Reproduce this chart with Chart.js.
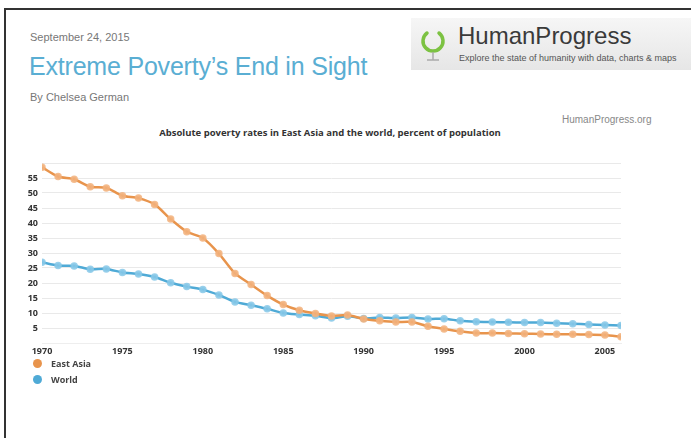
<!DOCTYPE html>
<html>
<head>
<meta charset="utf-8">
<script src="https://cdn.jsdelivr.net/npm/chart.js@4/dist/chart.umd.min.js"></script>
<style>
  body { margin: 0; background: #fff; width: 691px; height: 438px; overflow: hidden; position: relative; font-family: "Liberation Sans", Arial, sans-serif; }
  .frame { position: absolute; left: 4px; top: 8px; right: 0; bottom: 0; border-top: 2px solid #333; border-left: 2px solid #333; }
  .date { position: absolute; left: 30px; top: 31px; font-size: 11px; color: #777; }
  .title { position: absolute; left: 29px; top: 52px; font-size: 25px; color: #5aaed3; letter-spacing: -0.2px; }
  .by { position: absolute; left: 30px; top: 91px; font-size: 11px; color: #777; }
  .site { position: absolute; left: 562px; top: 114px; font-size: 10px; color: #888; }
  .logo { position: absolute; left: 411px; top: 18px; width: 280px; height: 52px; background: linear-gradient(#f6f6f6, #e6e6e6); }
  .logo .name { position: absolute; left: 47px; top: 4px; font-size: 24px; color: #3a3a3a; }
  .logo .tag { position: absolute; left: 48px; top: 35px; font-size: 9px; color: #555; }
  .logo svg { position: absolute; left: 6px; top: 8px; }
  .ctitle { position: absolute; left: 0; width: 660px; top: 126px; text-align: center; font-family: "Open Sans", sans-serif; font-weight: bold; font-size: 9.5px; color: #333; }
  #wrap { position: absolute; left: 0; top: 150px; width: 640px; height: 215px; }
  #legend { position: absolute; left: 33px; top: 357px; font-family: "Open Sans", sans-serif; font-weight: bold; font-size: 9px; color: #444; }
  #legend div { height: 16px; line-height: 14px; }
  #legend span { display: inline-block; width: 9px; height: 9px; border-radius: 50%; margin-right: 9px; vertical-align: -1px; }
</style>
</head>
<body>
<div class="frame"></div>
<div class="date">September 24, 2015</div>
<div class="title">Extreme Poverty’s End in Sight</div>
<div class="by">By Chelsea German</div>
<div class="logo">
  <svg width="32" height="40" viewBox="0 0 32 40">
    <path d="M10 7 A10 10 0 1 0 22 7" fill="none" stroke="#7cc242" stroke-width="3.5" stroke-linecap="round"/>
    <line x1="16" y1="26" x2="16" y2="34" stroke="#aaa" stroke-width="1.5"/>
    <line x1="10" y1="34" x2="22" y2="34" stroke="#aaa" stroke-width="1.5"/>
  </svg>
  <div class="name">HumanProgress</div>
  <div class="tag">Explore the state of humanity with data, charts &amp; maps</div>
</div>
<div class="site">HumanProgress.org</div>
<div class="ctitle">Absolute poverty rates in East Asia and the world, percent of population</div>
<div id="wrap"><canvas id="myChart"></canvas></div>
<div id="legend"></div>
<script>
// Data
var years = [];
for (var y = 1970; y <= 2006; y++) years.push(y);

var eastAsia = [58.6, 55.5, 54.6, 52.1, 51.7, 49.1, 48.3, 46.2, 41.3, 37.1, 35.0, 29.8, 23.2, 19.5, 15.8, 12.8, 10.9, 9.8, 9.0, 9.3,
                8.0, 7.4, 7.0, 7.0, 5.6, 4.7, 3.9, 3.3, 3.3, 3.2, 3.1, 3.0, 2.9, 2.9, 2.8, 2.7, 2.1];
var world = [26.9, 25.8, 25.7, 24.6, 24.7, 23.5, 23.0, 22.0, 20.1, 18.8, 17.8, 16.0, 13.7, 12.6, 11.4, 10.0, 9.5, 9.1, 8.3, 8.9,
             8.2, 8.5, 8.3, 8.5, 8.0, 8.1, 7.4, 7.1, 7.0, 6.9, 6.8, 6.8, 6.6, 6.4, 6.2, 6.0, 5.8];
var seriesNames = ['East Asia', 'World'];
var seriesColors = ['#e8944c', '#4faad6'];
var pointColors = ['rgba(242, 178, 125, 0.85)', 'rgba(135, 200, 232, 0.85)'];
var yTicks = [5, 10, 15, 20, 25, 30, 35, 40, 45, 50, 55];

function toPoints(vals) {
    return vals.map(function (v, i) { return { x: years[i], y: v }; });
}

var ctx = document.getElementById('myChart').getContext('2d');
var myChart = new Chart(ctx, {
    type: 'line',
    data: {
        datasets: [eastAsia, world].map(function (vals, i) {
            return {
                label: seriesNames[i],
                data: toPoints(vals),
                borderColor: seriesColors[i],
                backgroundColor: seriesColors[i],
                pointBackgroundColor: pointColors[i],
                pointBorderColor: pointColors[i],
                pointRadius: 2.5,
                borderWidth: 2.5,
                tension: 0.25
            };
        })
    },
    options: {
        responsive: true,
        maintainAspectRatio: false,
        animation: false,
        layout: { padding: { top: 13, right: 19 } },
        plugins: { legend: { display: false }, tooltip: { enabled: false } },
        scales: {
            x: {
                type: 'linear',
                min: 1970,
                max: 2006,
                afterBuildTicks: function (scale) {
                    scale.ticks = [1970, 1975, 1980, 1985, 1990, 1995, 2000, 2005].map(function (v) { return { value: v }; });
                },
                afterFit: function (scale) { scale.height = 22; },
                grid: { display: false },
                border: { display: true, color: '#eeeeee' },
                ticks: {
                    padding: -5,
                    color: '#333',
                    font: { family: 'Open Sans', weight: 'bold', size: 9 },
                    callback: function (v) { return String(v); }
                }
            },
            y: {
                min: 0,
                max: 60,
                afterBuildTicks: function (scale) {
                    scale.ticks = [0].concat(yTicks, [60]).map(function (v) { return { value: v }; });
                },
                afterFit: function (scale) { scale.width = 42; },
                grid: { color: '#e9e9e9', drawTicks: false },
                border: { display: false },
                ticks: {
                    padding: 4,
                    color: '#333',
                    font: { family: 'Open Sans', weight: 'bold', size: 9 },
                    callback: function (v) { return yTicks.indexOf(v) >= 0 ? String(v) : ''; }
                }
            }
        }
    }
});

// Legend
var legend = document.getElementById('legend');
seriesNames.forEach(function (name, i) {
    var row = document.createElement('div');
    row.innerHTML = '<span style="background:' + seriesColors[i] + '"></span>' + name;
    legend.appendChild(row);
});
</script>
</body>
</html>
